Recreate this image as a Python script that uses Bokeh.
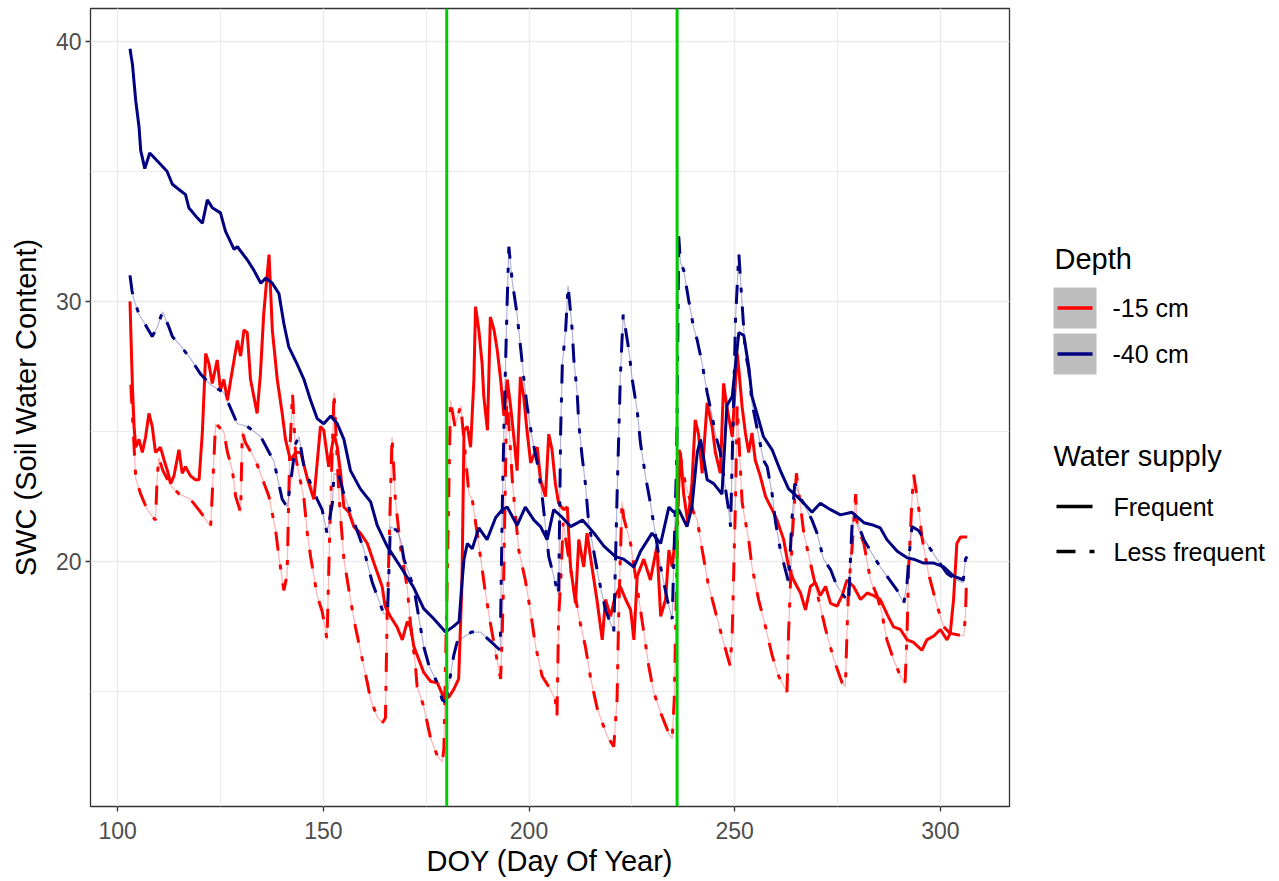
from bokeh.plotting import figure
from bokeh.layouts import row
from bokeh.models import Range1d, SingleIntervalTicker, Span
from bokeh.core.properties import value
from bokeh.embed import file_html
from bokeh.resources import INLINE

# ---------------- data ----------------
# -15 cm, Frequent
red_freq_doy = [103.0, 103.3, 103.6, 104.0, 104.4, 105.2, 106.0, 106.8, 107.6, 108.4, 109.2, 110.4, 111.3, 112.1,
                112.9, 113.7, 114.9, 115.7, 116.5, 117.7, 118.9, 119.8, 120.6, 121.4, 122.2, 123.0, 124.2, 125.0,
                125.8, 126.7, 127.5, 128.3, 129.1, 129.9, 130.7, 131.5, 132.3, 133.1, 133.9, 134.7, 135.5, 136.0,
                136.8, 137.6, 138.8, 140.0, 140.8, 142.0, 143.3, 144.5, 146.1, 147.7, 149.3, 150.1, 151.3, 152.6,
                153.4, 154.2, 155.0, 156.2, 157.4, 159.0, 160.7, 162.3, 164.3, 165.0, 166.3, 167.9, 169.2, 170.4,
                171.2, 172.0, 173.2, 174.4, 176.1, 177.7, 179.3, 180.5, 181.7, 182.9, 183.7, 184.2, 185.0, 185.8,
                186.6, 187.0, 187.8, 188.6, 189.0, 189.9, 190.6, 191.5, 192.3, 193.1, 193.9, 194.7, 195.5, 196.3,
                197.1, 197.9, 198.7, 199.5, 200.4, 202.0, 202.8, 204.0, 204.8, 205.6, 206.4, 207.2, 208.4, 209.3,
                210.1, 211.3, 212.1, 213.3, 214.1, 215.3, 216.5, 217.8, 218.6, 219.8, 221.0, 222.2, 223.5, 224.7,
                225.5, 226.3, 227.9, 229.5, 231.1, 232.0, 233.2, 234.0, 234.8, 236.0, 236.8, 237.6, 238.6, 239.6,
                240.4, 241.2, 242.1, 243.3, 244.5, 245.3, 246.5, 247.3, 248.1, 249.4, 250.6, 251.0, 251.8, 252.6,
                253.4, 254.2, 255.0, 256.2, 257.5, 259.1, 260.3, 261.9, 263.1, 264.3, 266.0, 267.2, 268.4, 269.6,
                270.8, 272.1, 273.3, 274.9, 276.1, 277.3, 278.9, 280.6, 282.2, 283.8, 285.4, 287.0, 288.6, 290.3,
                291.9, 293.5, 295.5, 296.7, 298.4, 300.0, 301.6, 302.4, 303.2, 304.0, 304.9, 306.5]
red_freq_swc = [30.0, 28.3, 26.7, 25.2, 24.4, 24.7, 24.2, 24.8, 25.7, 25.2, 24.2, 24.4, 23.9, 23.5,
                23.0, 23.3, 24.3, 23.4, 23.65, 23.3, 23.15, 23.15, 25.0, 28.0, 27.6, 26.85, 27.75, 26.6,
                27.0, 26.2, 27.0, 27.75, 28.5, 27.9, 28.9, 28.8, 27.0, 26.35, 25.7, 27.2, 29.5, 30.4,
                31.8, 28.9, 27.0, 25.7, 24.7, 23.9, 24.2, 24.2, 23.2, 22.4, 25.2, 25.05, 23.65, 24.9,
                24.4, 23.4, 22.1, 21.9, 21.35, 21.1, 20.7, 19.95, 19.05, 18.3, 17.9, 17.5, 17.0, 17.7,
                17.5, 16.75, 16.25, 15.75, 15.4, 15.35, 14.8, 14.8, 15.1, 15.5, 19.2, 25.05, 25.2, 24.4,
                27.0, 29.8, 28.9, 27.6, 26.35, 25.05, 29.4, 28.9, 28.1, 27.0, 25.6, 27.0, 26.0, 24.8,
                23.5, 27.1, 26.35, 25.05, 23.8, 24.4, 23.15, 22.5, 24.9, 24.3, 23.0, 22.25, 22.0, 22.1,
                19.8, 18.4, 20.85, 19.8, 21.1, 19.8, 18.55, 17.0, 18.55, 17.9, 18.7, 19.05, 18.55, 18.15,
                17.0, 19.45, 20.1, 19.3, 20.6, 17.9, 18.55, 20.45, 19.8, 21.6, 24.2, 22.6, 21.5, 23.0,
                25.45, 24.9, 23.4, 26.1, 25.2, 24.2, 23.4, 26.85, 25.95, 24.8, 28.0, 27.4, 25.95, 24.95,
                24.2, 24.95, 23.9, 23.3, 22.5, 22.0, 21.6, 20.85, 19.8, 19.3, 18.8, 18.15, 19.05, 19.2,
                18.7, 19.05, 18.4, 18.3, 18.7, 19.3, 19.05, 18.55, 18.8, 18.7, 18.55, 18.0, 17.5, 17.4,
                17.0, 16.9, 16.6, 17.0, 17.15, 17.4, 17.0, 17.25, 18.55, 20.7, 20.95, 20.95]

# -15 cm, Less frequent
red_less_doy = [103.2, 103.8, 104.4, 105.6, 107.2, 108.4, 109.2, 109.6, 110.0, 111.0, 113.0, 115.0, 117.7, 120.2,
                122.6, 123.0, 123.8, 125.8, 126.7, 127.9, 128.7, 129.9, 130.3, 131.0, 133.5, 134.7, 136.8, 138.4,
                139.2, 140.4, 141.2, 141.8, 142.5, 143.3, 145.3, 146.1, 146.9, 147.7, 148.5, 149.7, 150.5, 150.9,
                151.5, 152.6, 153.8, 155.0, 156.6, 157.8, 159.0, 159.8, 160.7, 161.5, 163.1, 164.3, 165.1, 165.5,
                165.9, 166.7, 167.1, 167.5, 168.8, 170.4, 171.2, 172.4, 172.8, 174.4, 176.1, 177.7, 178.9, 179.3,
                180.2, 180.9, 182.0, 183.4, 185.4, 186.2, 188.2, 189.4, 190.6, 191.9, 193.1, 193.5, 193.9, 194.6,
                196.0, 197.5, 199.1, 200.4, 201.6, 203.2, 204.8, 206.4, 206.8, 207.2, 207.7, 208.3, 210.0, 212.1,
                213.7, 215.0, 216.6, 219.0, 220.6, 221.4, 221.8, 222.6, 223.0, 224.7, 227.9, 229.1, 230.3, 232.0,
                234.0, 234.8, 235.3, 236.5, 238.0, 240.0, 240.9, 242.1, 243.5, 245.6, 247.3, 248.9, 249.4, 250.2,
                250.6, 251.4, 251.8, 252.2, 253.4, 254.2, 255.8, 257.5, 259.1, 260.7, 262.7, 263.1, 264.0, 265.0,
                266.8, 268.4, 270.4, 272.1, 274.1, 276.1, 276.9, 277.3, 277.7, 278.5, 279.4, 279.8, 281.4, 283.0,
                284.6, 285.8, 287.0, 288.6, 290.3, 291.4, 291.9, 292.3, 293.1, 293.5, 294.7, 295.5, 297.1, 299.2,
                300.8, 302.4, 305.7, 306.1, 306.3]
red_less_swc = [26.8, 25.0, 23.2, 22.6, 22.0, 21.75, 21.6, 23.2, 24.0, 23.5, 22.9, 22.6, 22.4, 21.9,
                21.35, 22.6, 25.3, 25.0, 24.2, 23.5, 22.5, 21.9, 25.0, 24.6, 23.9, 23.4, 22.5, 21.2,
                20.2, 18.9, 19.5, 24.0, 26.5, 24.0, 22.4, 21.1, 20.2, 19.45, 18.7, 18.1, 17.4, 17.0,
                20.8, 26.5, 22.5, 20.1, 18.55, 17.5, 16.6, 16.0, 15.35, 14.7, 14.05, 13.8, 14.0, 17.9,
                20.1, 24.8, 23.65, 22.4, 20.5, 19.0, 17.6, 16.0, 15.2, 14.45, 13.2, 12.55, 12.3, 12.8,
                20.0, 26.2, 25.2, 26.0, 22.6, 22.4, 20.2, 18.8, 17.65, 16.5, 15.5, 17.3, 19.8, 26.5,
                23.0, 20.45, 19.3, 18.05, 16.75, 15.6, 15.2, 14.7, 14.05, 17.9, 19.2, 21.5, 19.8, 17.9,
                16.75, 15.5, 14.35, 13.3, 12.9, 14.7, 18.0, 22.3, 21.7, 20.7, 17.3, 16.0, 15.0, 14.2,
                13.4, 13.2, 14.7, 24.3, 23.0, 21.9, 21.6, 20.45, 19.2, 17.9, 16.9, 16.0, 17.3, 22.4,
                26.0, 23.5, 22.3, 21.9, 20.85, 19.8, 18.55, 17.5, 16.4, 15.6, 15.0, 17.3, 21.0, 23.4,
                21.1, 19.95, 18.55, 17.4, 16.25, 15.35, 15.2, 17.3, 19.05, 20.45, 22.6, 21.35, 20.7, 19.3,
                18.7, 18.0, 17.0, 16.25, 15.6, 15.3, 17.3, 19.8, 22.4, 23.35, 22.1, 20.95, 19.55, 18.3,
                17.5, 17.25, 17.15, 18.0, 19.05]

# -40 cm, Frequent
navy_freq_doy = [103.0, 103.6, 104.4, 105.2, 105.6, 106.6, 107.8, 109.6, 112.0, 113.3, 114.9, 116.5, 117.3, 119.4,
                 120.6, 121.8, 123.0, 125.0, 126.2, 128.3, 129.1, 131.5, 133.1, 134.8, 136.0, 137.6, 139.2, 140.4,
                 141.6, 143.6, 145.3, 146.9, 148.5, 150.1, 151.8, 153.4, 155.0, 156.6, 159.0, 161.5, 163.1, 165.5,
                 168.8, 172.0, 174.4, 176.9, 179.7, 181.5, 183.0, 183.7, 184.2, 185.0, 186.2, 187.8, 189.8, 191.9,
                 193.5, 194.7, 197.1, 199.1, 201.2, 202.8, 204.4, 206.0, 208.1, 210.1, 213.0, 215.8, 218.2, 221.0,
                 223.0, 225.5, 227.1, 229.9, 232.0, 234.0, 235.2, 236.4, 238.4, 239.6, 240.9, 241.7, 243.3, 244.9,
                 246.9, 248.1, 249.4, 251.0, 252.2, 253.4, 254.2, 255.4, 257.0, 259.1, 261.1, 263.1, 265.2, 266.8,
                 268.8, 270.8, 273.3, 275.7, 278.5, 281.4, 283.8, 285.4, 287.0, 289.5, 291.9, 293.5, 295.9, 298.4,
                 300.8, 303.2, 305.7]
navy_freq_swc = [39.7, 39.1, 37.7, 36.7, 35.8, 35.1, 35.7, 35.4, 35.0, 34.5, 34.3, 34.1, 33.6, 33.2,
                 33.0, 33.9, 33.6, 33.4, 32.7, 32.0, 32.1, 31.6, 31.2, 30.7, 30.9, 30.7, 30.3, 29.15,
                 28.25, 27.6, 27.0, 26.2, 25.5, 25.3, 25.6, 25.3, 24.7, 23.5, 22.8, 22.3, 21.4, 20.6,
                 19.8, 19.0, 18.2, 17.8, 17.3, 17.5, 17.7, 19.2, 20.1, 20.7, 20.5, 21.3, 20.85, 21.7,
                 22.0, 22.1, 21.4, 22.1, 21.6, 21.35, 20.85, 22.0, 21.7, 21.35, 21.6, 21.1, 20.6, 20.2,
                 20.1, 19.8, 20.4, 21.1, 20.7, 22.1, 21.9, 22.0, 21.35, 22.1, 24.2, 24.7, 23.15, 23.0,
                 22.6, 26.0, 26.35, 28.8, 28.7, 27.5, 26.35, 25.7, 24.8, 24.3, 23.5, 22.8, 22.5, 22.25,
                 21.9, 22.25, 22.0, 21.8, 21.9, 21.5, 21.4, 21.3, 20.85, 20.4, 20.15, 20.1, 19.95, 19.95,
                 19.8, 19.45, 19.3]

# -40 cm, Less frequent
navy_less_doy = [103.0, 103.5, 104.0, 105.2, 106.4, 108.4, 109.6, 110.9, 112.5, 113.3, 115.3, 117.7, 120.2, 122.6,
                 125.8, 129.1, 131.5, 134.8, 138.0, 140.0, 141.2, 142.0, 143.3, 144.1, 145.3, 146.9, 148.5, 149.7,
                 150.9, 152.2, 152.6, 153.8, 155.0, 156.6, 158.2, 159.8, 161.9, 164.7, 165.6, 166.3, 167.9, 168.8,
                 169.6, 172.0, 174.4, 175.7, 177.7, 178.9, 179.8, 181.7, 182.5, 184.1, 186.0, 188.2, 193.0, 193.5,
                 193.9, 194.3, 194.7, 195.1, 195.9, 197.1, 197.9, 198.7, 199.5, 200.7, 202.0, 203.2, 204.8, 206.0,
                 207.2, 207.7, 208.1, 208.9, 209.5, 210.5, 210.9, 211.7, 212.1, 212.9, 213.7, 214.5, 215.8, 217.0,
                 218.6, 220.6, 221.4, 221.8, 222.2, 222.6, 222.9, 224.3, 225.1, 226.3, 227.1, 228.3, 229.5, 232.0,
                 233.6, 234.8, 235.9, 236.4, 236.8, 237.6, 238.8, 240.0, 240.9, 242.1, 243.3, 244.5, 245.3, 246.5,
                 247.3, 248.6, 249.0, 250.2, 251.0, 251.8, 252.6, 253.4, 254.2, 257.0, 257.9, 259.1, 259.9, 261.1,
                 263.1, 263.9, 264.6, 266.5, 268.8, 270.0, 271.6, 273.3, 274.9, 276.1, 277.7, 278.1, 278.5, 278.9,
                 281.4, 283.8, 285.4, 287.0, 289.5, 291.1, 291.9, 292.3, 293.1, 294.7, 296.7, 299.2, 301.6, 304.0,
                 305.5, 306.1, 306.5]
navy_less_swc = [31.0, 30.4, 30.05, 29.5, 29.2, 28.65, 29.0, 29.6, 29.0, 28.65, 28.3, 27.8, 27.2, 26.8,
                 26.5, 25.3, 25.2, 24.8, 23.85, 22.4, 22.1, 23.0, 24.55, 24.8, 23.65, 23.0, 22.4, 22.0,
                 21.1, 22.25, 23.4, 23.3, 22.6, 21.9, 21.2, 20.5, 19.2, 18.0, 18.0, 21.35, 21.2, 20.85,
                 20.1, 19.0, 16.75, 16.0, 15.35, 14.7, 14.6, 16.4, 16.9, 17.1, 17.3, 17.3, 16.6, 22.1,
                 25.1, 27.6, 30.05, 32.1, 30.8, 29.5, 28.3, 27.1, 26.0, 24.8, 23.8, 22.5, 20.2, 19.45,
                 18.7, 25.1, 27.6, 28.9, 30.6, 28.9, 27.75, 26.5, 25.3, 24.05, 23.0, 21.5, 20.35, 19.3,
                 18.15, 17.3, 22.5, 24.8, 27.1, 28.5, 29.5, 28.1, 27.0, 25.8, 24.55, 23.3, 22.25, 19.8,
                 18.55, 17.8, 24.0, 32.5, 31.5, 31.2, 30.05, 29.0, 28.5, 27.6, 26.5, 25.6, 24.9, 24.2,
                 23.3, 21.9, 21.35, 29.3, 31.85, 29.9, 28.0, 27.4, 26.1, 23.9, 23.65, 22.6, 21.55, 20.45,
                 19.2, 21.6, 23.0, 22.3, 21.6, 21.1, 20.1, 19.7, 19.05, 18.8, 18.4, 19.95, 21.35, 21.9,
                 20.85, 20.2, 19.8, 19.45, 18.9, 18.4, 19.2, 20.1, 21.35, 21.2, 20.7, 20.1, 19.55, 19.3,
                 19.2, 20.1, 20.2]

treatment_days = [180, 236]

depth_labels = ["-15 cm", "-40 cm"]
supply_labels = ["Frequent", "Less frequent"]

x_ticks_interval = 50
y_ticks_interval = 10

# ---------------- styles ----------------
FONT = "Liberation Sans"
DASH = "19 14 5 14"
RED = "#FF0000"
NAVY = "#000080"
GREEN = "#00CD00"
TICK_PX = "23px"
TITLE_PX = "29px"
LEG_LABEL_PX = "25px"

FIG_H = 879
TOP_B, BOT_B = 8, 73
FRAME_TOP, FRAME_BOT = TOP_B, FIG_H - BOT_B   # page y of the panel frame

# ---------------- main panel ----------------
p = figure(width=1011, height=FIG_H, output_backend="svg", toolbar_location=None,
           x_range=Range1d(93.4, 316.8), y_range=Range1d(10.6, 41.25),
           min_border_left=90, min_border_right=2, min_border_top=TOP_B, min_border_bottom=BOT_B)
p.background_fill_color = "white"
p.border_fill_color = "white"
p.outline_line_color = "#333333"
p.outline_line_width = 1.3

p.xaxis.ticker = SingleIntervalTicker(interval=x_ticks_interval, num_minor_ticks=2)
p.yaxis.ticker = SingleIntervalTicker(interval=y_ticks_interval, num_minor_ticks=2)
for g in (p.xgrid, p.ygrid):
    g.grid_line_color = "#EBEBEB"
    g.grid_line_width = 1.4
    g.minor_grid_line_color = "#EBEBEB"
    g.minor_grid_line_width = 1.0

for ax in (p.xaxis, p.yaxis):
    ax.axis_line_color = None
    ax.major_tick_line_color = "#333333"
    ax.major_tick_line_width = 1.3
    ax.major_tick_out = 5
    ax.major_tick_in = 0
    ax.minor_tick_line_color = None
    ax.major_label_text_font = FONT
    ax.major_label_text_font_size = TICK_PX
    ax.major_label_text_color = "#4D4D4D"
    ax.axis_label_text_font = FONT
    ax.axis_label_text_font_size = TITLE_PX
    ax.axis_label_text_font_style = "normal"
    ax.axis_label_text_color = "black"
p.xaxis.axis_label = "DOY (Day Of Year)"
p.yaxis.axis_label = "SWC (Soil Water Content)"
p.xaxis.major_label_standoff = 10
p.xaxis.axis_label_standoff = 3
p.yaxis.major_label_standoff = 4
p.yaxis.axis_label_standoff = 11

# faint trails under the dash-dot series
p.line(red_less_doy, red_less_swc, line_color=RED, line_alpha=0.3, line_width=1.2)
p.line(navy_less_doy, navy_less_swc, line_color=NAVY, line_alpha=0.3, line_width=1.2)

p.line(red_freq_doy, red_freq_swc, line_color=RED, line_width=3)
p.line(red_less_doy, red_less_swc, line_color=RED, line_width=3, line_dash=DASH)
p.line(navy_freq_doy, navy_freq_swc, line_color=NAVY, line_width=3)
p.line(navy_less_doy, navy_less_swc, line_color=NAVY, line_width=3, line_dash=DASH)

for d in treatment_days:
    p.add_layout(Span(location=d, dimension="height", line_color=GREEN, line_width=3))

# ---------------- legend panel (page-pixel coordinates, y downward) ----------------
LW = 268
X0 = 1011  # page x of the legend panel
lg = figure(width=LW, height=FIG_H, output_backend="svg", toolbar_location=None,
            x_range=Range1d(X0, X0 + LW), y_range=Range1d(FRAME_BOT, FRAME_TOP),
            x_axis_type=None, y_axis_type=None,
            min_border_left=0, min_border_right=0, min_border_top=TOP_B, min_border_bottom=BOT_B)
lg.outline_line_color = None
lg.grid.visible = False
lg.background_fill_color = "white"
lg.border_fill_color = "white"

key_left, key_right = 1053, 1096
key_tops = [287, 333]
key_h = 41
lg.quad(left=[key_left] * 2, right=[key_right] * 2,
        top=key_tops, bottom=[t + key_h for t in key_tops], fill_color="#BEBEBE", line_color=None)
depth_y = [t + key_h / 2 for t in key_tops]
lg.segment(x0=[key_left + 4] * 2, x1=[key_right - 4] * 2, y0=depth_y, y1=depth_y,
           line_color=[RED, NAVY], line_width=3.5)
lg.text(x=[1112] * 2, y=depth_y, text=depth_labels, text_font=value(FONT),
        text_font_size=LEG_LABEL_PX, text_baseline="middle", text_align="left", text_color="black")

supply_y = [506, 551]
lg.segment(x0=[1056], x1=[1092], y0=[supply_y[0]], y1=[supply_y[0]],
           line_color="black", line_width=3.5)
lg.segment(x0=[1056], x1=[1094], y0=[supply_y[1]], y1=[supply_y[1]],
           line_color="black", line_width=3.5, line_dash=DASH)
lg.text(x=[1113] * 2, y=supply_y, text=supply_labels, text_font=value(FONT),
        text_font_size=LEG_LABEL_PX, text_baseline="middle", text_align="left", text_color="black")

lg.text(x=[1054, 1053], y=[258, 455], text=["Depth", "Water supply"], text_font=value(FONT),
        text_font_size=TITLE_PX, text_baseline="middle", text_align="left", text_color="black")

layout = row(p, lg, spacing=0)
open("out.html", "w").write(file_html(layout, INLINE))
